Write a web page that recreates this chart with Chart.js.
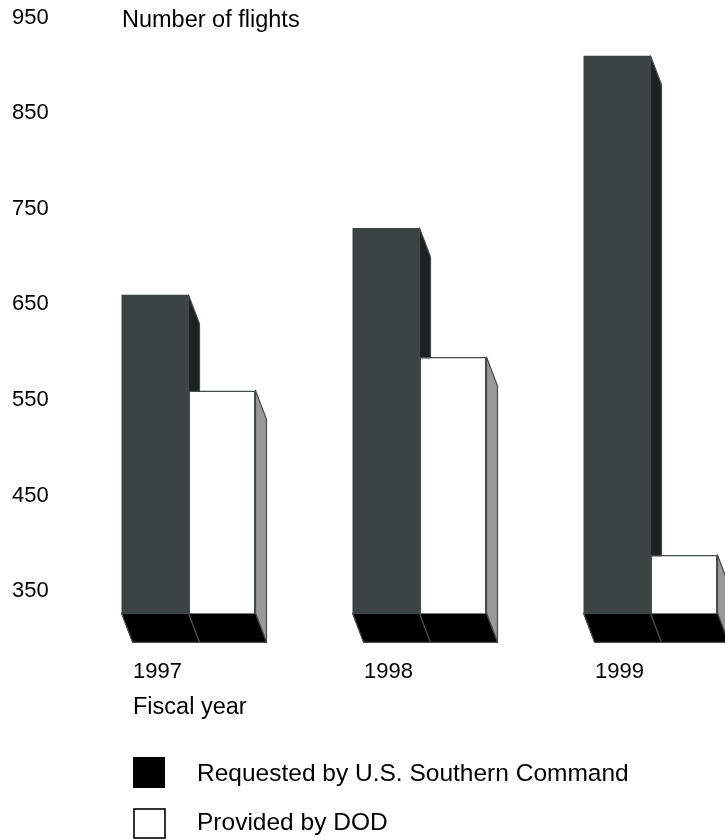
<!DOCTYPE html>
<html>
<head>
<meta charset="utf-8">
<script src="https://cdn.jsdelivr.net/npm/chart.js@4/dist/chart.umd.min.js"></script>
<style>
  html, body { margin: 0; padding: 0; overflow: hidden; background: #fff; }
  #wrap { width: 725px; height: 840px; overflow: hidden; }
  canvas { display: block; }
</style>
</head>
<body>
<div id="wrap"><canvas id="chart" width="800" height="840"></canvas></div>
<script>
// Fiscal years and flight counts
const fiscalYears = ['1997', '1998', '1999'];
const requestedFlights = [660, 730, 910];   // requested by U.S. Southern Command
const providedFlights = [560, 595, 388];    // provided by DOD
const yTickValues = [350, 450, 550, 650, 750, 850, 950];
const seriesNames = ['Requested by U.S. Southern Command', 'Provided by DOD'];

const FONT = '"Liberation Sans", Arial, Helvetica, sans-serif';
const FRONT = ['#3c4443', '#ffffff'];
const SIDE = ['#1b2322', '#999999'];
const EDGE = '#454d4c';
const DX = 11, DY = 29;   // extrusion of the pseudo-3D bars

// Side faces and floors drawn under the bar fronts
const depthPlugin = {
  id: 'depth',
  beforeDatasetsDraw(chart) {
    const ctx = chart.ctx;
    const yScale = chart.scales.y;
    const floorY = yScale.getPixelForValue(yScale.min);
    const bars = [];
    chart.data.datasets.forEach((ds, di) => {
      chart.getDatasetMeta(di).data.forEach(el => {
        const p = el.getProps(['x', 'y', 'width'], true);
        bars.push({ di, l: p.x - p.width / 2, r: p.x + p.width / 2, top: p.y, base: floorY });
      });
    });
    ctx.save();
    ctx.lineJoin = 'round';
    ctx.lineWidth = 1.2;
    ctx.strokeStyle = EDGE;
    bars.forEach(b => {
      ctx.beginPath();
      ctx.moveTo(b.r, b.top);
      ctx.lineTo(b.r + DX, b.top + DY);
      ctx.lineTo(b.r + DX, b.base + DY);
      ctx.lineTo(b.r, b.base);
      ctx.closePath();
      ctx.fillStyle = SIDE[b.di];
      ctx.fill();
      ctx.stroke();
    });
    bars.forEach(b => {
      ctx.beginPath();
      ctx.moveTo(b.l, b.base);
      ctx.lineTo(b.r, b.base);
      ctx.lineTo(b.r + DX, b.base + DY);
      ctx.lineTo(b.l + DX, b.base + DY);
      ctx.closePath();
      ctx.fillStyle = '#000000';
      ctx.fill();
      ctx.stroke();
    });
    ctx.restore();
  }
};

// Axis titles and legend
const textPlugin = {
  id: 'texts',
  afterDraw(chart) {
    const ctx = chart.ctx;
    ctx.save();
    ctx.fillStyle = '#000';
    ctx.textAlign = 'left';
    ctx.textBaseline = 'middle';
    ctx.font = '23.5px ' + FONT;
    ctx.fillText('Number of flights', 122, 21);
    ctx.fillText('Fiscal year', 133, 708);

    ctx.font = '24.5px ' + FONT;
    // legend entry 1
    ctx.fillStyle = '#000';
    ctx.fillRect(133, 757, 32, 31);
    ctx.fillText(seriesNames[0], 197, 774);
    // legend entry 2
    ctx.fillStyle = '#fff';
    ctx.fillRect(134, 809, 31, 29);
    ctx.strokeStyle = '#000';
    ctx.lineWidth = 1.6;
    ctx.strokeRect(134, 809, 31, 29);
    ctx.fillStyle = '#000';
    ctx.fillText(seriesNames[1], 197, 823);
    ctx.restore();
  }
};

new Chart(document.getElementById('chart'), {
  type: 'bar',
  data: {
    labels: fiscalYears,
    datasets: [
      {
        label: seriesNames[0],
        data: requestedFlights,
        backgroundColor: FRONT[0],
        borderColor: FRONT[0],
        borderWidth: 0,
        categoryPercentage: 0.58,
        barPercentage: 1.0
      },
      {
        label: seriesNames[1],
        data: providedFlights,
        backgroundColor: FRONT[1],
        borderColor: EDGE,
        borderWidth: 1.5,
        categoryPercentage: 0.58,
        barPercentage: 1.0
      }
    ]
  },
  options: {
    responsive: false,
    animation: false,
    layout: { padding: { left: 12, right: 34, top: 17.5, bottom: 0 } },
    plugins: { legend: { display: false }, tooltip: { enabled: false } },
    scales: {
      x: {
        grid: { display: false, drawTicks: false },
        border: { display: false },
        ticks: {
          color: '#000',
          font: { family: FONT, size: 22 },
          labelOffset: -31,
          padding: 45
        },
        afterFit(scale) { scale.height = 226.7; }
      },
      y: {
        min: 327,
        max: 950,
        grid: { display: false, drawTicks: false },
        border: { display: false },
        ticks: {
          color: '#000',
          font: { family: FONT, size: 22 },
          crossAlign: 'far',
          padding: 0
        },
        afterBuildTicks(scale) { scale.ticks = yTickValues.map(v => ({ value: v })); },
        afterFit(scale) { scale.width = 61; }
      }
    }
  },
  plugins: [depthPlugin, textPlugin]
});
</script>
</body>
</html>
